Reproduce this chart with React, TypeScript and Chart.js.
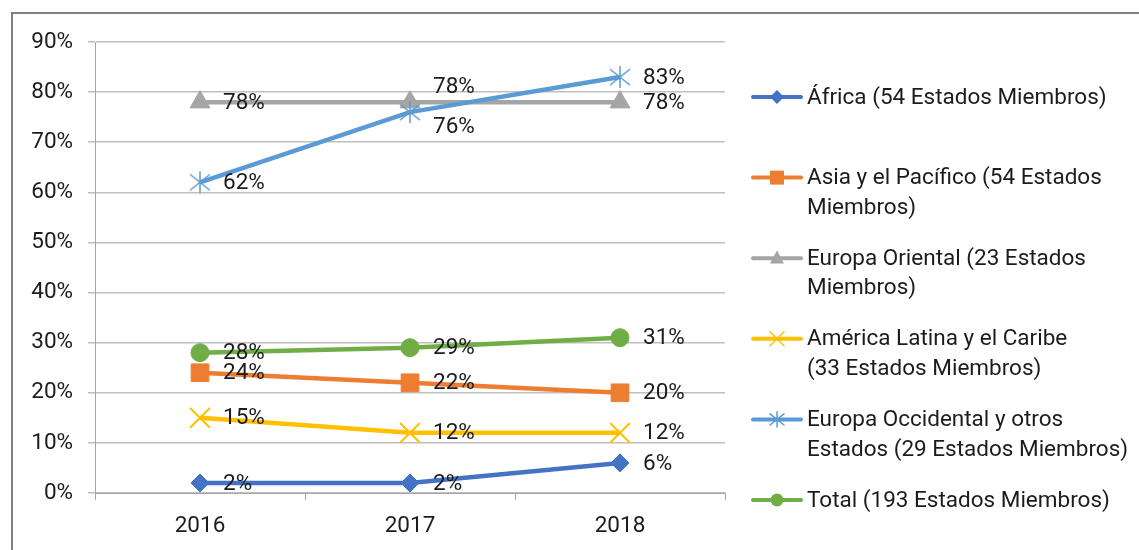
import React, { useEffect, useRef } from "react";
import { Chart, registerables } from "chart.js";

Chart.register(...registerables);

const categories = ["2016", "2017", "2018"];
const seriesNames = [
  "África (54 Estados Miembros)",
  "Asia y el Pacífico (54 Estados Miembros)",
  "Europa Oriental (23 Estados Miembros)",
  "América Latina y el Caribe (33 Estados Miembros)",
  "Europa Occidental y otros Estados (29 Estados Miembros)",
  "Total (193 Estados Miembros)",
];
const legendLines = [
  ["África (54 Estados Miembros)"],
  ["Asia y el Pacífico (54 Estados", "Miembros)"],
  ["Europa Oriental (23 Estados", "Miembros)"],
  ["América Latina y el Caribe", "(33 Estados Miembros)"],
  ["Europa Occidental y otros", "Estados (29 Estados Miembros)"],
  ["Total (193 Estados Miembros)"],
];
const africa = [2, 2, 6];
const asia = [24, 22, 20];
const europaOriental = [78, 78, 78];
const americaLatina = [15, 12, 12];
const europaOccidental = [62, 76, 83];
const total = [28, 29, 31];
const yTicks = [0, 10, 20, 30, 40, 50, 60, 70, 80, 90];

const colors = ["#4472C4", "#ED7D31", "#A5A5A5", "#FFC000", "#5B9BD5", "#70AD47"];
const markerKinds = ["diamond", "square", "triangle", "x", "asterisk", "circle"];

const FONT = "Roboto, sans-serif";
const TEXT = "#1c1c1c";
const FS = 22.5;

function drawMarker(ctx: CanvasRenderingContext2D, kind: string, x: number, y: number, s: number, color: string) {
  ctx.save();
  ctx.fillStyle = color;
  ctx.strokeStyle = color;
  ctx.beginPath();
  if (kind === "diamond") {
    ctx.moveTo(x - s, y); ctx.lineTo(x, y - s); ctx.lineTo(x + s, y); ctx.lineTo(x, y + s); ctx.closePath(); ctx.fill();
  } else if (kind === "square") {
    ctx.rect(x - s, y - s, 2 * s, 2 * s); ctx.fill();
  } else if (kind === "triangle") {
    ctx.moveTo(x, y - s * 1.1); ctx.lineTo(x + s, y + s * 0.75); ctx.lineTo(x - s, y + s * 0.75); ctx.closePath(); ctx.fill();
  } else if (kind === "circle") {
    ctx.arc(x, y, s, 0, Math.PI * 2); ctx.fill();
  } else if (kind === "x") {
    ctx.lineWidth = 1.5;
    ctx.moveTo(x - s, y - s); ctx.lineTo(x + s, y + s); ctx.moveTo(x + s, y - s); ctx.lineTo(x - s, y + s); ctx.stroke();
  } else if (kind === "asterisk") {
    ctx.lineWidth = 1.5;
    ctx.moveTo(x, y - s * 1.1); ctx.lineTo(x, y + s * 1.1);
    ctx.moveTo(x - s, y - s * 0.8); ctx.lineTo(x + s, y + s * 0.8);
    ctx.moveTo(x + s, y - s * 0.8); ctx.lineTo(x - s, y + s * 0.8);
    ctx.stroke();
  }
  ctx.restore();
}

function makeAsterisk(color: string, half: number): HTMLCanvasElement {
  const c = document.createElement("canvas");
  const size = Math.ceil(half * 2 + 4);
  c.width = size; c.height = size;
  const ctx = c.getContext("2d")!;
  drawMarker(ctx, "asterisk", size / 2, size / 2, half, color);
  return c;
}

const labelOffsets: Record<number, number[]> = { 2: [0, -16, 0], 4: [0, 14, 0] };

const dataLabelsPlugin = {
  id: "dataLabels",
  afterDatasetsDraw(chart: any) {
    const ctx = chart.ctx as CanvasRenderingContext2D;
    ctx.save();
    ctx.font = `${FS}px ${FONT}`;
    ctx.fillStyle = TEXT;
    ctx.textAlign = "left";
    ctx.textBaseline = "middle";
    chart.data.datasets.forEach((ds: any, di: number) => {
      const meta = chart.getDatasetMeta(di);
      meta.data.forEach((pt: any, i: number) => {
        const off = labelOffsets[di] ? labelOffsets[di][i] : 0;
        ctx.fillText(`${ds.data[i]}%`, pt.x + 23, pt.y + off + 1);
      });
    });
    ctx.restore();
  },
};

const legendPlugin = {
  id: "customLegend",
  afterDraw(chart: any) {
    const ctx = chart.ctx as CanvasRenderingContext2D;
    ctx.save();
    const y0 = 97, step = 80.6, lh = 29.5;
    legendLines.forEach((lines, i) => {
      const y = y0 + i * step;
      ctx.strokeStyle = colors[i];
      ctx.lineWidth = 4;
      ctx.lineCap = "round";
      ctx.beginPath();
      ctx.moveTo(753, y); ctx.lineTo(801, y); ctx.stroke();
      drawMarker(ctx, markerKinds[i], 777, y, markerKinds[i] === "circle" ? 6.5 : 7, colors[i]);
      ctx.font = `${FS}px ${FONT}`;
      ctx.fillStyle = TEXT;
      ctx.textAlign = "left";
      ctx.textBaseline = "middle";
      lines.forEach((t, j) => ctx.fillText(t, 807, y + j * lh + 1));
    });
    ctx.restore();
  },
};

export default function App() {
  const ref = useRef<HTMLCanvasElement>(null);
  useEffect(() => {
    if (!ref.current) return;
    const values = [africa, asia, europaOriental, americaLatina, europaOccidental, total];
    const styles: any[] = [
      { pointStyle: "rectRot", pointRadius: 9 },
      { pointStyle: "rect", pointRadius: 12.5 },
      { pointStyle: "triangle", pointRadius: 11.5 },
      { pointStyle: "crossRot", pointRadius: 14, pointBorderWidth: 2 },
      { pointStyle: makeAsterisk(colors[4], 10), pointRadius: 12 },
      { pointStyle: "circle", pointRadius: 9 },
    ];
    const chart = new Chart(ref.current, {
      type: "line",
      data: {
        labels: categories,
        datasets: values.map((v, i) => ({
          label: seriesNames[i],
          data: v,
          borderColor: colors[i],
          backgroundColor: colors[i],
          borderWidth: 4.5,
          pointBorderWidth: 1,
          pointBackgroundColor: colors[i],
          pointBorderColor: colors[i],
          tension: 0,
          order: 6 - i,
          ...styles[i],
        })),
      },
      options: {
        responsive: false,
        animation: false,
        layout: { padding: { left: 0, top: 42, right: 414, bottom: 0 } },
        plugins: { legend: { display: false }, tooltip: { enabled: false }, title: { display: false } },
        scales: {
          x: {
            type: "category",
            offset: true,
            grid: { offset: true, drawOnChartArea: false, drawTicks: true, tickLength: 7, color: "#a6a6a6" },
            border: { display: true, color: "#a6a6a6" },
            ticks: { font: { family: FONT, size: FS }, color: TEXT, padding: 13 },
            afterFit: (s: any) => { s.height = 57; },
          },
          y: {
            min: 0,
            max: 90,
            afterBuildTicks: (s: any) => { s.ticks = yTicks.map((v) => ({ value: v })); },
            grid: { color: "#bfbfbf", tickLength: 7, lineWidth: 1.5 },
            border: { display: true, color: "#a6a6a6" },
            ticks: { font: { family: FONT, size: FS }, color: TEXT, padding: 15, callback: (v: any) => `${v}%` },
            afterFit: (s: any) => { s.width = 95; },
          },
        },
      },
      plugins: [dataLabelsPlugin, legendPlugin],
    });
    return () => chart.destroy();
  }, []);
  return (
    <div style={{ position: "absolute", left: 0, top: 0, width: 1139, height: 550, background: "#fff", overflow: "hidden" }}>
      <canvas ref={ref} width={1139} height={550} style={{ position: "absolute", left: 0, top: 0, width: 1139, height: 550 }} />
      <div style={{ position: "absolute", left: 11, top: 12, width: 1200, height: 600, borderLeft: "2px solid #808080", borderTop: "2px solid #808080", pointerEvents: "none" }} />
    </div>
  );
}
